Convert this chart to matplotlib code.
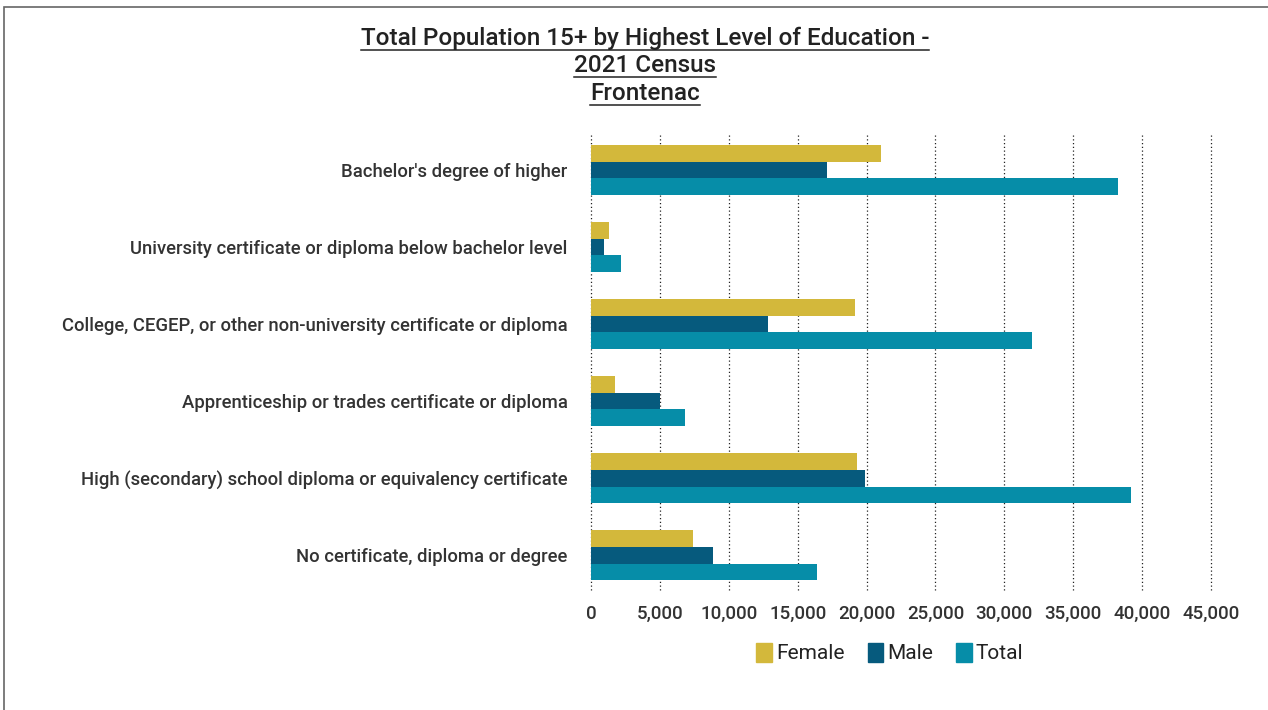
import matplotlib.pyplot as plt
import numpy as np
from matplotlib.patches import Rectangle
from matplotlib.lines import Line2D

# Data
categories = [
    "Bachelor's degree of higher",
    "University certificate or diploma below bachelor level",
    "College, CEGEP, or other non-university certificate or diploma",
    "Apprenticeship or trades certificate or diploma",
    "High (secondary) school diploma or equivalency certificate",
    "No certificate, diploma or degree",
]
female = [21050, 1340, 19170, 1770, 19320, 7420]
male = [17150, 920, 12880, 5040, 19900, 8880]
total = [38250, 2200, 32020, 6840, 39190, 16420]
series_names = ["Female", "Male", "Total"]
colors = ["#D3B83B", "#065A7D", "#068DA8"]
xticks = np.arange(0, 45001, 5000)

plt.rcParams['font.family'] = ['Roboto', 'DejaVu Sans']

fig = plt.figure(figsize=(12.68, 7.10), dpi=100)
ax = fig.add_axes([591 / 1268, 120 / 710, 620 / 1268, 457 / 710])

y = np.arange(len(categories))
h = 0.215
for i, (vals, name, c) in enumerate(zip([female, male, total], series_names, colors)):
    ax.barh(y + (i - 1) * h, vals, height=h, color=c, label=name, zorder=2)

ax.set_xlim(0, 45000)
ax.set_ylim(5.45, -0.48)
ax.set_xticks(xticks)
ax.set_xticklabels([f"{v:,}" for v in xticks])
ax.set_yticks(y)
ax.set_yticklabels(categories)
ax.tick_params(axis='both', length=0, labelcolor='#333333')
ax.tick_params(axis='x', pad=11, labelsize=13.5)
ax.tick_params(axis='y', pad=17, labelsize=13.3)
for lab in ax.get_xticklabels() + ax.get_yticklabels():
    lab.set_fontweight('medium')
for s in ax.spines.values():
    s.set_visible(False)
ax.grid(axis='x', color='#222222', linestyle=(0, (1, 2)), linewidth=0.9, zorder=0)
for gl in ax.get_xgridlines():
    gl.set_clip_on(False)
ax.set_axisbelow(True)

# Legend
handles = [Rectangle((0, 0), 1, 1, color=c) for c in colors]
fig.legend(handles, series_names, loc='center', bbox_to_anchor=(890 / 1268, 1 - 653 / 710),
           ncol=3, frameon=False, fontsize=15, handlelength=0.75, handleheight=1.05,
           handletextpad=0.2, columnspacing=1.1, labelcolor='#222222')

# Underlined title, line by line
title_lines = ["Total Population 15+ by Highest Level of Education -", "2021 Census", "Frontenac"]
title_y = [38, 65, 94]
fig.canvas.draw()
renderer = fig.canvas.get_renderer()
for line, ty in zip(title_lines, title_y):
    t = fig.text(645 / 1268, 1 - ty / 710, line, ha='center', va='center',
                 fontsize=17.5, fontweight='medium', color='#222222')
    bb = t.get_window_extent(renderer=renderer).transformed(fig.transFigure.inverted())
    fig.add_artist(Line2D([bb.x0, bb.x1], [bb.y0, bb.y0],
                          transform=fig.transFigure, color='#222222', linewidth=1.1))

# Outer border
fig.add_artist(Rectangle((4 / 1268, -0.05), 1.1, 1 - 7 / 710 + 0.05, transform=fig.transFigure,
                         fill=False, edgecolor='#666666', linewidth=1.2))

fig.savefig('out.png', dpi=100)
